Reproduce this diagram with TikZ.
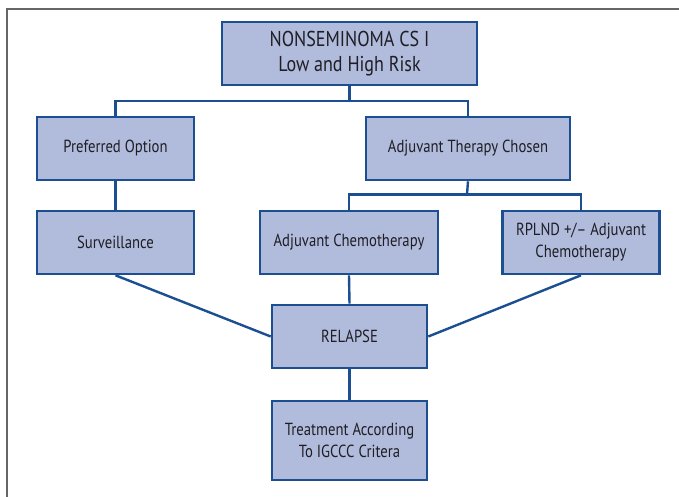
\documentclass[tikz,border=0pt]{standalone}
\usepackage{fontspec}
\setmainfont{PT Sans}[FakeStretch=0.84]
\definecolor{boxfill}{HTML}{B1BBDC}
\definecolor{boxline}{HTML}{1B4F91}
\definecolor{framegray}{HTML}{666666}
\definecolor{boxtext}{HTML}{1E1E24}
\begin{document}
\begin{tikzpicture}[x=1pt,y=-1pt,
  flowbox/.style={draw=boxline, fill=boxfill, line width=2.6pt, align=center,
    inner sep=2pt, font=\fontsize{17.5}{22}\selectfont, text=boxtext},
  link/.style={draw=boxline, line width=2.4pt}]
\useasboundingbox (0,0) rectangle (679,497);
\draw[framegray, line width=2pt] (690,9) -- (7,9) -- (7,510);
\node[flowbox, minimum width=255pt, minimum height=63pt, font=\fontsize{21.5}{25}\selectfont] (top) at (349.5,53.5) {NONSEMINOMA CS I\\Low and High Risk};
\node[flowbox, minimum width=157pt, minimum height=63pt] (pref) at (115.5,148.5) {Preferred Option};
\node[flowbox, minimum width=204pt, minimum height=63pt] (adj) at (468,148.5) {Adjuvant Therapy Chosen};
\node[flowbox, minimum width=157pt, minimum height=63pt] (surv) at (115.5,242.5) {Surveillance};
\node[flowbox, minimum width=178pt, minimum height=63pt] (chemo) at (349,242.5) {Adjuvant Chemotherapy};
\node[flowbox, minimum width=157pt, minimum height=63pt] (rplnd) at (581,242.5) {RPLND +/– Adjuvant\\Chemotherapy};
\node[flowbox, minimum width=155pt, minimum height=63pt] (relapse) at (349.5,336.5) {RELAPSE};
\node[flowbox, minimum width=155pt, minimum height=79pt] (treat) at (349.5,440.5) {Treatment According\\To IGCCC Critera};
\coordinate (j1) at (349.5,101);
\coordinate (j2) at (467,194.5);
\draw[link] (top.south) -- (j1);
\draw[link] (pref.north) |- (j1) -| (adj.north);
\draw[link] (adj.south) -- (j2);
\draw[link] (chemo.north) |- (j2) -| (rplnd.north);
\draw[link] (pref.south) -- (surv.north);
\draw[link] (surv.south) -- (relapse.west);
\draw[link] (rplnd.south) -- (relapse.east);
\draw[link] (chemo.south) -- (relapse.north);
\draw[link] (relapse.south) -- (treat.north);
\end{tikzpicture}
\end{document}
